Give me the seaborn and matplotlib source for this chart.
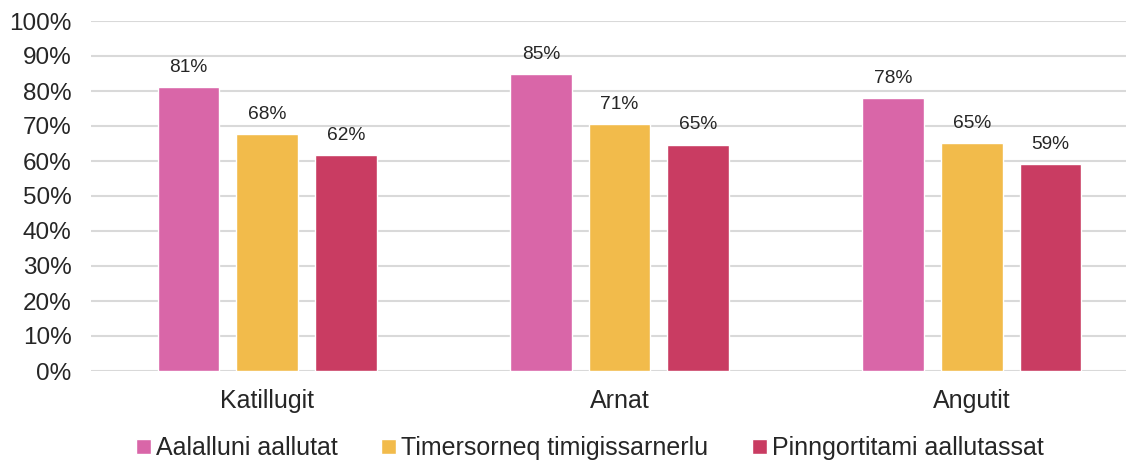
import matplotlib.pyplot as plt
import pandas as pd
import seaborn as sns
from matplotlib.ticker import PercentFormatter

categories = ["Katillugit", "Arnat", "Angutit"]
series = ["Aalalluni aallutat", "Timersorneq timigissarnerlu", "Pinngortitami aallutassat"]
aalalluni = [81.1, 84.8, 78.0]
timersorneq = [67.8, 70.6, 65.1]
pinngortitami = [61.6, 64.7, 59.1]
colors = ["#D966A8", "#F2BB4B", "#C93C62"]

rows = []
for name, vals in zip(series, [aalalluni, timersorneq, pinngortitami]):
    for cat, v in zip(categories, vals):
        rows.append({"cat": cat, "series": name, "value": v})
df = pd.DataFrame(rows)

sns.set_style("white")
plt.rcParams['font.family'] = ['Liberation Sans', 'DejaVu Sans']
txt = "#262626"

fig = plt.figure(figsize=(11.26, 4.62), dpi=100)
ax = fig.add_axes([91 / 1126, 1 - 371 / 462, 1057 / 1126, 350 / 462])

sns.barplot(data=df, x="cat", y="value", hue="series", palette=colors,
            width=0.67, gap=0.217, saturation=1, ax=ax, legend=True)

for cont in ax.containers:
    ax.bar_label(cont, fmt="%.0f%%", padding=8, fontsize=13.8, color=txt)

ax.set_ylim(0, 100)
ax.set_xlim(-0.5, 2.5)
ax.set_yticks(range(0, 101, 10))
ax.yaxis.set_major_formatter(PercentFormatter(decimals=0))
ax.grid(axis="y", color="#D9D9D9", linewidth=1.5)
ax.set_axisbelow(True)
for s in ax.spines.values():
    s.set_visible(False)
ax.set_xlabel("")
ax.set_ylabel("")
ax.tick_params(axis="y", labelsize=17.5, colors=txt, length=0, pad=14)
ax.tick_params(axis="x", labelsize=18, colors=txt, length=0, pad=13)

ax.legend(loc="lower center", bbox_to_anchor=(590 / 1126, -0.045),
          bbox_transform=fig.transFigure, ncol=3, frameon=False,
          fontsize=18, handlelength=0.6, handleheight=0.6, handletextpad=0.2,
          columnspacing=1.75, labelcolor=txt)

fig.savefig("out.png", dpi=100)
